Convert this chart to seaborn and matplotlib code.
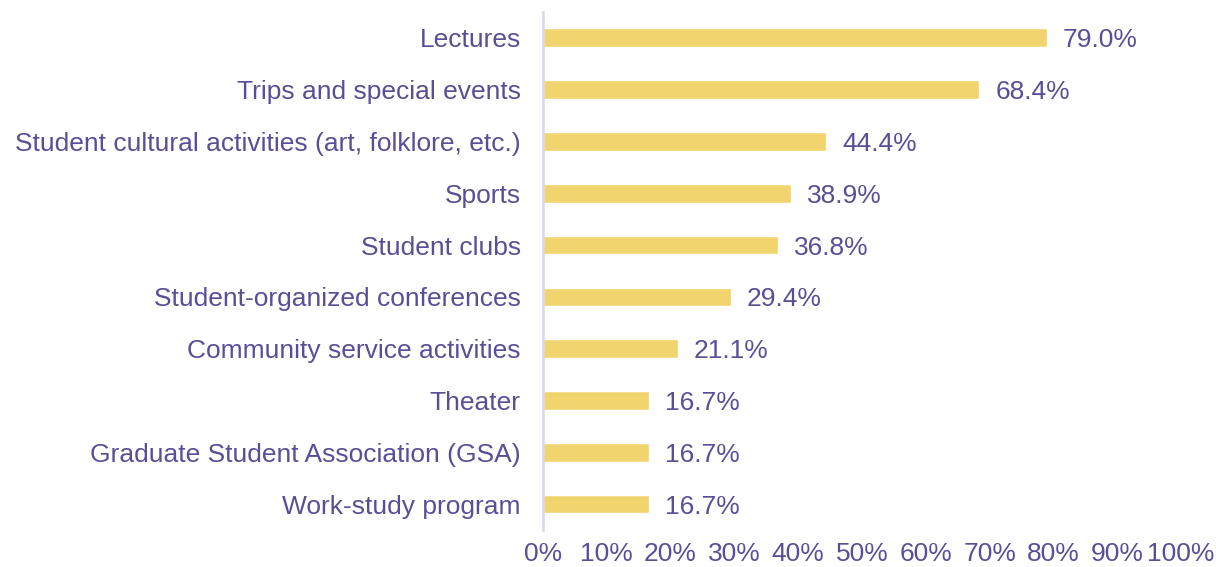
import matplotlib
matplotlib.use("Agg")
import matplotlib.pyplot as plt
import seaborn as sns
import pandas as pd

categories = [
    "Lectures",
    "Trips and special events",
    "Student cultural activities (art, folklore, etc.)",
    "Sports",
    "Student clubs",
    "Student-organized conferences",
    "Community service activities",
    "Theater",
    "Graduate Student Association (GSA)",
    "Work-study program",
]
values = [79.0, 68.4, 44.4, 38.9, 36.8, 29.4, 21.1, 16.7, 16.7, 16.7]
xticks = [0, 10, 20, 30, 40, 50, 60, 70, 80, 90, 100]

sns.set_theme(style="white")
plt.rcParams["font.family"] = ["Liberation Sans", "DejaVu Sans"]

text_color = "#5A4E97"
bar_color = "#F2D46E"

df = pd.DataFrame({"category": categories, "value": values})

fig = plt.figure(figsize=(12.16, 5.67), dpi=100)
ax = fig.add_axes([0.4465, 0.0653, 0.9712 - 0.4465, 0.979 - 0.0653])

sns.barplot(data=df, x="value", y="category", color=bar_color, width=0.36,
            saturation=1, ax=ax, orient="h")

ax.set_xlim(0, 100)
ax.set_xticks(xticks)
ax.set_xticklabels([f"{t}%" for t in xticks])
ax.set_xlabel("")
ax.set_ylabel("")
for s in ["top", "right", "bottom"]:
    ax.spines[s].set_visible(False)
ax.spines["left"].set_color("#D9D6EA")
ax.spines["left"].set_linewidth(1.8)
ax.tick_params(axis="both", length=0, labelsize=19, colors=text_color)
ax.tick_params(axis="y", pad=16)
ax.tick_params(axis="x", pad=9)

for i, v in enumerate(values):
    ax.annotate(f"{v:.1f}%", xy=(v, i), xytext=(11.5, 0), textcoords="offset points",
                va="center_baseline", ha="left", fontsize=19, color=text_color)

fig.savefig("out.png", dpi=100)
